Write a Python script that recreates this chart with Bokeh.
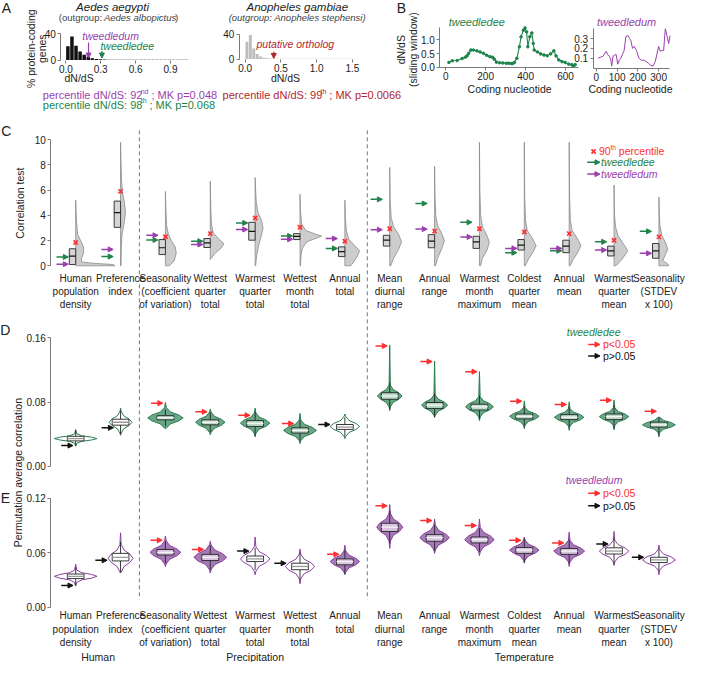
import numpy as np
from bokeh.plotting import figure
from bokeh.models import Range1d, LinearAxis, FixedTicker, Arrow, NormalHead, PrintfTickFormatter, Grid
from bokeh.core.properties import value
from bokeh.embed import file_html
from bokeh.resources import INLINE

# ======================= DATA =======================
# Panel A: dN/dS histograms (% of protein-coding genes per bin)
aedes_bin_width = 0.035
aedes_pct = [21, 36, 22, 13, 8, 5, 2.6, 1.5, 1.0, 0.7, 0.5, 0.4, 0.4, 0.3, 0.3,
             0.3, 0.3, 0.3, 0.3, 0.3, 0.3, 0.3, 0.3, 0.3, 0.3, 0.3, 0.3, 0.3, 0.3, 0.3]
anoph_bin_width = 0.048
anoph_pct = [28, 39, 17, 8, 4, 2, 1.2, 0.7, 0.5, 0.3, 0.3, 0.3, 0.3, 0.3, 0.3, 0.3,
             0.3, 0.3, 0.3, 0.3, 0.3, 0.3, 0.3, 0.3, 0.3, 0.3, 0.3, 0.3, 0.3, 0.3, 0.3, 0.3]
tweedledum_dnds = 0.195
tweedledee_dnds = 0.31
anoph_ortholog_dnds = 0.40

# Panel B: sliding-window dN/dS
tweedledee_nt = [16, 33, 57, 82, 98, 107, 115, 126, 139, 156, 172, 189, 205, 221, 234, 243, 254, 270,
                 286, 303, 315, 328, 335, 344, 356, 369, 377, 389, 397, 405, 411, 421, 431, 438, 443,
                 459, 475, 492, 508, 525, 541, 552, 566, 582, 598, 615, 631, 639, 648]
tweedledee_win = [0.18, 0.24, 0.25, 0.32, 0.37, 0.42, 0.51, 0.63, 0.63, 0.60, 0.56, 0.51, 0.44, 0.39,
                  0.37, 0.30, 0.19, 0.17, 0.16, 0.15, 0.15, 0.14, 0.14, 0.18, 0.33, 0.75, 1.11, 1.35,
                  1.43, 1.29, 0.75, 1.11, 1.25, 0.87, 0.63, 0.56, 0.49, 0.45, 0.42, 0.49, 0.60, 0.42,
                  0.27, 0.21, 0.18, 0.12, 0.10, 0.04, 0.10]
tweedledum_nt = [8, 20, 32, 47, 57, 63, 70, 74, 80, 88, 95, 103, 110, 118, 128, 134, 142, 153, 160,
                 166, 174, 182, 193, 205, 216, 228, 237, 250, 261, 273, 284, 300, 308, 316, 324, 332,
                 340, 348, 355]
tweedledum_win = [0.10, 0.11, 0.12, 0.17, 0.13, 0.12, 0.08, 0.02, 0.12, 0.13, 0.14, 0.04, 0.08, 0.10,
                  0.15, 0.18, 0.32, 0.33, 0.30, 0.28, 0.20, 0.22, 0.18, 0.10, 0.08, 0.08, 0.07, 0.05,
                  0.03, 0.02, 0.07, 0.22, 0.17, 0.18, 0.18, 0.40, 0.33, 0.25, 0.33]

# Categories (C, D, E)
cat_labels = ["Human\npopulation\ndensity", "Preference\nindex", "Seasonality\n(coefficient\nof variation)",
              "Wettest\nquarter\ntotal", "Warmest\nquarter\ntotal", "Wettest\nmonth\ntotal", "Annual\ntotal",
              "Mean\ndiurnal\nrange", "Annual\nrange", "Warmest\nmonth\nmaximum", "Coldest\nquarter\nmean",
              "Annual\nmean", "Warmest\nquarter\nmean", "Seasonality\n(STDEV\nx 100)"]
group_labels = ["Human", "Precipitation", "Temperature"]
group_first = [0, 2, 7]
group_last = [1, 6, 13]

# Panel C: correlation test null distributions (half violins: (value, half-width px) outline)
c_violin = [
    [(0, 40), (0.1, 38), (0.2, 18), (0.3, 6), (0.6, 6), (1.0, 8), (1.5, 8), (2.0, 5), (2.5, 2), (3.5, 0.8), (5.2, 0)],
    [(0, 0.5), (1.5, 0.8), (2.5, 1.5), (3.3, 3.5), (4.2, 5), (5.0, 4), (5.8, 2), (6.8, 1), (8.3, 0.4), (9.8, 0)],
    [(0, 4), (0.4, 9), (1.0, 11), (1.5, 10), (2.0, 6), (2.5, 3), (3.2, 1.2), (4.5, 0.5), (5.9, 0)],
    [(0.5, 0), (1.0, 5), (1.4, 11), (1.75, 14), (2.1, 9), (2.6, 3), (3.3, 1.2), (4.6, 0.5), (6.7, 0)],
    [(0, 0.5), (0.8, 1.5), (1.6, 3.5), (2.3, 6), (3.0, 8), (3.6, 6.5), (4.2, 3), (5.0, 1.2), (6.0, 0.5), (7.0, 0)],
    [(0, 0.5), (0.8, 1), (1.4, 2.5), (1.9, 7), (2.2, 17), (2.35, 22), (2.5, 16), (2.8, 6), (3.3, 1.8), (4.2, 0.6), (5.66, 0)],
    [(0, 6), (0.3, 9), (0.8, 13), (1.2, 15), (1.6, 10), (2.1, 4), (2.8, 1.5), (3.8, 0.5), (5.2, 0)],
    [(0, 1), (0.6, 4), (1.3, 9), (1.9, 12), (2.5, 9), (3.1, 4), (3.8, 1.5), (5.0, 0.5), (7.8, 0)],
    [(0, 1), (0.6, 3), (1.3, 7), (2.0, 10), (2.6, 7), (3.2, 3), (4.0, 1.2), (5.5, 0.4), (7.9, 0)],
    [(0, 1), (0.6, 3), (1.3, 8), (1.9, 10), (2.5, 7), (3.1, 3), (4.0, 1.2), (6.0, 0.4), (9.8, 0)],
    [(0, 1), (0.5, 4), (1.1, 9), (1.6, 12), (2.2, 8), (2.8, 3), (3.6, 1.2), (5.5, 0.4), (9.8, 0)],
    [(0, 1), (0.5, 4), (1.1, 9), (1.6, 12), (2.2, 8), (2.8, 3), (3.6, 1.2), (5.5, 0.4), (9.8, 0)],
    [(0, 2), (0.5, 8), (1.2, 14), (1.8, 9), (2.4, 4), (3.1, 1.5), (4.0, 0.5), (6.4, 0)],
    [(0, 10), (0.15, 9), (0.4, 4), (0.8, 6), (1.3, 9), (1.8, 7), (2.4, 3), (3.2, 1), (4.2, 0.4), (5.45, 0)],
]
c_q1 = [0.10, 3.05, 0.89, 1.45, 2.03, 2.08, 0.73, 1.56, 1.43, 1.38, 1.25, 1.04, 0.78, 0.60]
c_med = [0.76, 4.22, 1.43, 1.82, 2.73, 2.34, 1.12, 2.03, 1.95, 1.90, 1.64, 1.56, 1.19, 1.19]
c_q3 = [1.35, 5.13, 2.08, 2.16, 3.45, 2.55, 1.50, 2.42, 2.47, 2.34, 2.08, 2.03, 1.56, 1.77]
c_p90 = [1.85, 5.90, 2.30, 2.55, 3.79, 3.06, 1.95, 2.94, 2.75, 2.94, 2.68, 2.55, 2.03, 2.29]
c_tweedledee = [0.70, 0.73, 2.05, 1.95, 3.40, 2.36, 1.38, 5.27, 4.94, 3.45, 1.04, 1.19, 1.90, 2.73]
c_tweedledum = [0.13, 1.30, 2.42, 1.69, 2.88, 2.10, 2.16, 2.86, 2.91, 2.29, 1.38, 1.38, 1.25, 0.99]

# Panel D (tweedledee) permutation distributions: violin (bottom, mode, top, half-width px, bulge half-height)
d_violin = [(0.0253, 0.0347, 0.0457, 21.7, 0.0035), (0.0388, 0.0550, 0.0726, 11.7, 0.008),
            (0.0470, 0.0604, 0.0796, 18.0, 0.0075), (0.0396, 0.0550, 0.0714, 15.0, 0.0075),
            (0.0367, 0.0539, 0.0726, 15.0, 0.0075), (0.0286, 0.0449, 0.0661, 16.7, 0.0075),
            (0.0347, 0.0498, 0.0653, 15.0, 0.0075), (0.0694, 0.0877, 0.1510, 12.5, 0.008),
            (0.0612, 0.0763, 0.1310, 13.3, 0.0075), (0.0570, 0.0743, 0.1180, 14.2, 0.0075),
            (0.0470, 0.0624, 0.0816, 15.0, 0.0065), (0.0449, 0.0612, 0.0804, 15.0, 0.0065),
            (0.0457, 0.0620, 0.0828, 15.0, 0.0065), (0.0367, 0.0518, 0.0612, 16.7, 0.0055)]
d_q1 = [0.0318, 0.0514, 0.0580, 0.0518, 0.0498, 0.0416, 0.0461, 0.0836, 0.0722, 0.0702, 0.0592, 0.0583, 0.0583, 0.0490]
d_med = [0.0347, 0.0550, 0.0606, 0.0550, 0.0535, 0.0449, 0.0490, 0.0877, 0.0763, 0.0743, 0.0624, 0.0612, 0.0620, 0.0518]
d_q3 = [0.0375, 0.0588, 0.0632, 0.0580, 0.0571, 0.0481, 0.0522, 0.0918, 0.0796, 0.0775, 0.0653, 0.0645, 0.0653, 0.0551]
d_observed = [0.0260, 0.0481, 0.0788, 0.0681, 0.0637, 0.0534, 0.0522, 0.1500, 0.1306, 0.1180, 0.0812, 0.0771, 0.0824, 0.0686]
d_signif = [False, False, True, True, True, True, False, True, True, True, True, True, True, True]

# Panel E (tweedledum)
e_violin = [(0.0234, 0.0342, 0.0475, 21.7, 0.004), (0.0378, 0.0540, 0.0820, 12.7, 0.009),
            (0.0450, 0.0605, 0.0785, 15.7, 0.0075), (0.0378, 0.0551, 0.0727, 16.7, 0.008),
            (0.0360, 0.0533, 0.0774, 15.0, 0.008), (0.0259, 0.0450, 0.0641, 15.0, 0.008),
            (0.0360, 0.0504, 0.0684, 15.0, 0.007), (0.0648, 0.0882, 0.1130, 13.3, 0.009),
            (0.0594, 0.0767, 0.0972, 15.0, 0.008), (0.0569, 0.0745, 0.0972, 15.0, 0.008),
            (0.0486, 0.0630, 0.0774, 15.0, 0.0065), (0.0450, 0.0619, 0.0828, 15.7, 0.007),
            (0.0461, 0.0619, 0.0835, 15.0, 0.007), (0.0360, 0.0522, 0.0684, 16.7, 0.0065)]
e_q1 = [0.0317, 0.0511, 0.0576, 0.0515, 0.0504, 0.0414, 0.0468, 0.0835, 0.0727, 0.0709, 0.0594, 0.0583, 0.0587, 0.0493]
e_med = [0.0342, 0.0550, 0.0605, 0.0551, 0.0533, 0.0450, 0.0504, 0.0882, 0.0767, 0.0745, 0.0630, 0.0619, 0.0619, 0.0522]
e_q3 = [0.0367, 0.0594, 0.0637, 0.0583, 0.0565, 0.0486, 0.0533, 0.0925, 0.0800, 0.0774, 0.0659, 0.0648, 0.0655, 0.0551]
e_observed = [0.0241, 0.0518, 0.0738, 0.0637, 0.0619, 0.0486, 0.0583, 0.1116, 0.0954, 0.0900, 0.0738, 0.0709, 0.0698, 0.0551]
e_signif = [False, False, True, True, False, False, True, True, True, True, True, True, False, False]

# ======================= STYLE / LAYOUT =======================
FONT = "Liberation Sans"
GREEN = "#1e8449"
PURPLE = "#9b3fae"
RED = "#ff2e2e"
DARKRED = "#b3262c"
AXC = "#7a7a7a"
TXT = "#222222"
TICK = "10px"

W, H = 685, 662
FX0, FX1 = 2.0, 699.0   # reference-pixel span covered by the frame
FY0, FY1 = 3.0, 676.0
PXC = 45.65             # pixels per category step


def xrange_from(p0, v0, p1, v1):
    k = (v1 - v0) / (p1 - p0)
    return Range1d(start=v0 + (FX0 - p0) * k, end=v0 + (FX1 - p0) * k)


def yrange_from(p0, v0, p1, v1):
    k = (v1 - v0) / (p1 - p0)
    return Range1d(start=v0 + (FY1 - p0) * k, end=v0 + (FY0 - p0) * k)


p = figure(width=W, height=H, output_backend="svg", toolbar_location=None,
           x_range=Range1d(FX0, FX1), y_range=Range1d(FY1, FY0),
           x_axis_location=None, y_axis_location=None,
           min_border_left=0, min_border_right=0, min_border_top=0, min_border_bottom=0)
p.outline_line_color = None
p.background_fill_color = "white"
p.border_fill_color = "white"
for r in list(p.center):
    if isinstance(r, Grid):
        r.visible = False

p.extra_x_ranges = {
    "a1": xrange_from(68.5, 0.0, 175.0, 0.9),
    "a2": xrange_from(251.0, 0.0, 360.0, 1.5),
    "b1": xrange_from(455.0, 0.0, 577.0, 600.0),
    "b2": xrange_from(608.3, 0.0, 671.7, 300.0),
    "cat": xrange_from(78.5, 0.0, 78.5 + 13 * PXC, 13.0),
}
p.extra_y_ranges = {
    "a1": yrange_from(63.5, 0.0, 37.0, 40.0),
    "a2": yrange_from(62.5, 0.0, 37.5, 40.0),
    "b1": yrange_from(71.0, 0.0, 43.0, 1.0),
    "b2": yrange_from(71.7, 0.0, 41.7, 0.3),
    "c": yrange_from(272.7, 0.0, 144.5, 10.0),
    "d": yrange_from(476.7, 0.0, 346.0, 0.16),
    "e": yrange_from(620.0, 0.0, 509.0, 0.12),
}


def xval(name, px):
    r = p.extra_x_ranges[name]
    return r.start + (px - FX0) / (FX1 - FX0) * (r.end - r.start)


def add_axis(side, xr, yr, loc, ticks, bounds=None, fmt=None, line=True, size=TICK):
    ax = LinearAxis(x_range_name=xr, y_range_name=yr, fixed_location=loc,
                    ticker=FixedTicker(ticks=ticks))
    if bounds is not None:
        ax.bounds = bounds
    if fmt:
        ax.formatter = PrintfTickFormatter(format=fmt)
    ax.axis_line_color = AXC if line else None
    ax.major_tick_line_color = AXC
    ax.minor_tick_line_color = None
    ax.major_tick_in = 0
    ax.major_tick_out = 3
    ax.major_label_standoff = 2
    ax.major_label_text_font = FONT
    ax.major_label_text_font_size = size
    ax.major_label_text_color = TXT
    p.add_layout(ax, side)


def txt(x, y, s, size=9.5, color=TXT, style="normal", align="center", baseline="middle",
        angle=0.0, xr="default", yr="default"):
    xs = x if isinstance(x, list) else [x]
    ys = y if isinstance(y, list) else [y] * len(xs)
    ss = s if isinstance(s, list) else [s] * len(xs)
    p.text(x=xs, y=ys, text=ss, text_font=value(FONT), text_font_size=f"{size}px",
           text_color=color, text_font_style=style, text_align=align, text_baseline=baseline,
           angle=angle, text_line_height=1.2, x_range_name=xr, y_range_name=yr)


AW = {' ': 278, '%': 889, '(': 333, ')': 333, '-': 333, '.': 278, '/': 278, ':': 278, ';': 278,
      '<': 584, '=': 584, '>': 584, 'M': 833, 'K': 667, 'N': 722, 'S': 667, 'A': 667,
      'a': 556, 'b': 556, 'c': 500, 'd': 556, 'e': 556, 'f': 278, 'g': 556, 'h': 556, 'i': 222,
      'j': 222, 'k': 500, 'l': 222, 'm': 833, 'n': 556, 'o': 556, 'p': 556, 'q': 556, 'r': 333,
      's': 500, 't': 278, 'u': 556, 'v': 500, 'w': 722, 'x': 500, 'y': 500, 'z': 500}


def tw(s, size):
    return sum(AW.get(ch, 556) for ch in s) * size / 1000.0


def rich(x, y, pieces, color, size=11, style="normal"):
    cx = x
    for s, sup in pieces:
        sz = size * 0.64 if sup else size
        lead = len(s) - len(s.lstrip(" "))
        cx += tw(" " * lead, sz)
        body = s.strip(" ")
        txt(cx, y - (size * 0.36 if sup else 0), body, size=sz, color=color, align="left", style=style)
        cx += tw(body, sz)
        trail = len(s) - len(s.rstrip(" "))
        cx += tw(" " * trail, sz)


def arrow(x0, y0, x1, y1, color, xr="default", yr="default", size=5, lw=1.3):
    p.add_layout(Arrow(x_start=x0, y_start=y0, x_end=x1, y_end=y1, x_range_name=xr, y_range_name=yr,
                       line_color=color, line_width=lw,
                       end=NormalHead(size=size, fill_color=color, line_color=color, line_width=1)))


# ======================= PANEL A =======================
txt(8, 11, "A", size=14)
a1_x = [(k + 0.5) * aedes_bin_width for k in range(len(aedes_pct))]
p.vbar(x=a1_x, top=aedes_pct, bottom=0, width=aedes_bin_width * 0.86, fill_color="#111111",
       line_color=None, x_range_name="a1", y_range_name="a1")
add_axis("below", "a1", "a1", 0, [0, 0.3, 0.6, 0.9], fmt="%.1f", line=False)
add_axis("left", "a1", "a1", xval("a1", 63.5), [0, 40], bounds=(0, 40))
arrow(tweedledum_dnds, 27, tweedledum_dnds, 3.0, PURPLE, "a1", "a1", size=5, lw=1.2)
arrow(tweedledee_dnds, 14, tweedledee_dnds, 3.0, GREEN, "a1", "a1", size=5, lw=1.2)
txt(114, 39, "tweedledum", size=10.5, color=PURPLE, style="italic")
txt(131, 49, "tweedledee", size=10.5, color=GREEN, style="italic")
txt(116, 10, "Aedes aegypti", size=11.5, style="italic")
sub1 = [("(outgroup: ", "normal"), ("Aedes albopictus", "italic"), (")", "normal")]
sx = 122 - sum(tw(s, 9.5) for s, _ in sub1) / 2
for s, st in sub1:
    txt(sx, 20, s.strip(), size=9.5, color="#444444", style=st, align="left")
    sx += tw(s, 9.5)
txt(82, 82, "dN/dS", size=10.5)
txt(33, 52, "% protein-coding", size=10.5, angle=np.pi / 2)
txt(44, 52, "genes", size=10.5, angle=np.pi / 2)

a2_x = [(k + 0.5) * anoph_bin_width for k in range(len(anoph_pct))]
p.vbar(x=a2_x, top=anoph_pct, bottom=0, width=anoph_bin_width * 0.86, fill_color="#bdbdbd",
       line_color=None, x_range_name="a2", y_range_name="a2")
add_axis("below", "a2", "a2", 0, [0, 0.5, 1.0, 1.5], fmt="%.1f", line=False)
add_axis("left", "a2", "a2", xval("a2", 245), [0, 40], bounds=(0, 40))
arrow(anoph_ortholog_dnds, 12, anoph_ortholog_dnds, 1.0, DARKRED, "a2", "a2", size=5, lw=1.2)
txt(302, 47, "putative ortholog", size=10.5, color=DARKRED, style="italic")
txt(304, 10, "Anopheles gambiae", size=11.5, style="italic")
txt(304, 20, "(outgroup: Anopheles stephensi)", size=9.5, color="#444444", style="italic")
txt(292, 82, "dN/dS", size=10.5)

rich(45, 99, [("percentile dN/dS: 92", False), ("nd", True), (" ; MK p=0.048", False)], PURPLE)
rich(45, 109, [("percentile dN/dS: 98", False), ("th", True), (" ; MK p=0.068", False)], GREEN)
rich(228, 99, [("percentile dN/dS: 99", False), ("th", True), (" ; MK p=0.0066", False)], DARKRED)

# ======================= PANEL B =======================
txt(410, 11, "B", size=14)
txt(410, 53, "dN/dS", size=10.5, angle=np.pi / 2)
txt(422, 53, "(sliding window)", size=10.5, angle=np.pi / 2)
p.line(tweedledee_nt, tweedledee_win, line_color=GREEN, line_width=1.1, x_range_name="b1", y_range_name="b1")
p.scatter(tweedledee_nt, tweedledee_win, size=2.6, fill_color=GREEN, line_color=GREEN,
          x_range_name="b1", y_range_name="b1")
add_axis("below", "b1", "b1", 0, [0, 200, 400, 600], bounds=(xval("b1", 449), xval("b1", 590)))
add_axis("left", "b1", "b1", xval("b1", 449), [0, 0.5, 1.0], bounds=(0, 1.45), fmt="%.1f")
txt(458, 25, "tweedledee", size=11, color=GREEN, style="italic", align="left")
txt(520, 93, "Coding nucleotide", size=10.5)

p.line(tweedledum_nt, tweedledum_win, line_color=PURPLE, line_width=1.0, x_range_name="b2", y_range_name="b2")
add_axis("below", "b2", "b2", 0, [0, 100, 200, 300], bounds=(xval("b2", 605), xval("b2", 683)))
add_axis("left", "b2", "b2", xval("b2", 605), [0.1, 0.2, 0.3], bounds=(0, 0.4), fmt="%.1f")
txt(639, 25, "tweedledum", size=11, color=PURPLE, style="italic")
txt(643, 93, "Coding nucleotide", size=10.5)

# ======================= PANEL C =======================
txt(8, 136, "C", size=14)
txt(22, 209, "Correlation test", size=10.5, angle=np.pi / 2)
add_axis("left", "cat", "c", xval("cat", 53.3), [0, 2, 4, 6, 8, 10], bounds=(0, 10))
vxs, vys = [], []
for i, knots in enumerate(c_violin):
    vs = [k[0] for k in knots]
    ws = [k[1] / PXC for k in knots]
    vxs.append([i] + [i + w for w in ws] + [i])
    vys.append([vs[0]] + vs + [vs[-1]])
p.patches(vxs, vys, fill_color="#cdcdcd", line_color="#8a8a8a", line_width=0.8,
          x_range_name="cat", y_range_name="c")
idx = list(range(len(c_q1)))
bw = 6.5 / PXC
p.quad(left=[i - bw for i in idx], right=idx, bottom=c_q1, top=c_q3, fill_color="#d6d6d6",
       line_color="#3a3a3a", line_width=1, x_range_name="cat", y_range_name="c")
p.segment(x0=[i - bw for i in idx], x1=idx, y0=c_med, y1=c_med, line_color="#111111", line_width=1.2,
          x_range_name="cat", y_range_name="c")
p.scatter(idx, c_p90, marker="x", size=6, line_color=RED, line_width=1.6, x_range_name="cat", y_range_name="c")
for i in idx:
    tip = i - 7.5 / PXC
    arrow(tip - 12 / PXC, c_tweedledee[i], tip, c_tweedledee[i], GREEN, "cat", "c", size=5, lw=1.5)
    arrow(tip - 12 / PXC, c_tweedledum[i], tip, c_tweedledum[i], PURPLE, "cat", "c", size=5, lw=1.5)
txt(idx, 280, cat_labels, size=10, baseline="top", xr="cat")
# legend C
p.scatter([605.5], [156.5], marker="x", size=6, line_color=RED, line_width=1.6)
rich(611, 156.5, [("90", False), ("th", True), (" percentile", False)], RED, size=10.5)
arrow(599, 167.5, 612, 167.5, GREEN, size=5, lw=1.5)
txt(613, 167.5, "tweedledee", size=10.5, color=GREEN, style="italic", align="left")
arrow(599, 179.5, 612, 179.5, PURPLE, size=5, lw=1.5)
txt(613, 179.5, "tweedledum", size=10.5, color=PURPLE, style="italic", align="left")

# dashed separators spanning C-E
p.segment(x0=[1.42, 6.5], x1=[1.42, 6.5], y0=[135, 135], y1=[612, 612], line_color="#777777",
          line_width=1, line_dash="4 3", x_range_name="cat")


# ======================= PANELS D / E =======================
def spindle(vb, vm, vt, Wd, h):
    pts = [(vb, 0.0)]
    for f, k in [(-1.7, 0.05), (-1.0, 0.28), (-0.5, 0.75), (0.0, 1.0), (0.5, 0.75), (1.0, 0.28), (1.7, 0.05)]:
        v = vm + f * h
        if vb < v < vt:
            pts.append((v, k * Wd))
    pts.append((vt, 0.0))
    return pts


def violin_panel(yr, vparams, q1s, meds, q3s, obs, sig, fill, line, boxfill):
    fx, fy, ox, oy = [], [], [], []
    bx, bw2 = list(range(len(vparams))), 8.5 / PXC
    wlo, whi = [], []
    for i, (vb, vm, vt, Wd, h) in enumerate(vparams):
        pts = spindle(vb, vm, vt, Wd, h)
        vs = [a for a, _ in pts]
        ws = [b / PXC for _, b in pts]
        xs = [i + w for w in ws] + [i - w for w in ws[::-1]]
        ys = vs + vs[::-1]
        (fx if sig[i] else ox).append(xs)
        (fy if sig[i] else oy).append(ys)
        iqr = q3s[i] - q1s[i]
        wlo.append(max(vb, q1s[i] - 1.5 * iqr))
        whi.append(min(vt, q3s[i] + 1.5 * iqr))
        hw = float(np.interp(obs[i], vs, [b for _, b in pts]))
        tip = i - (hw + 2.5) / PXC
        arrow(tip - 12 / PXC, obs[i], tip, obs[i], RED if sig[i] else "#111111", "cat", yr, size=5, lw=1.5)
    p.patches(fx, fy, fill_color=fill, line_color=line, line_width=1, x_range_name="cat", y_range_name=yr)
    p.patches(ox, oy, fill_color="white", line_color=line, line_width=1, x_range_name="cat", y_range_name=yr)
    p.segment(x0=bx, x1=bx, y0=wlo, y1=whi, line_color="#222222", line_width=0.9,
              x_range_name="cat", y_range_name=yr)
    fills = [boxfill if s else "white" for s in sig]
    meds_c = ["#f4f4f4" if s else "#9a9a9a" for s in sig]
    p.quad(left=[i - bw2 for i in bx], right=[i + bw2 for i in bx], bottom=q1s, top=q3s,
           fill_color=fills, line_color="#222222", line_width=0.9, x_range_name="cat", y_range_name=yr)
    p.segment(x0=[i - bw2 for i in bx], x1=[i + bw2 for i in bx], y0=meds, y1=meds, line_color=meds_c,
              line_width=1.3, x_range_name="cat", y_range_name=yr)


txt(7, 338, "D", size=14)
add_axis("left", "cat", "d", xval("cat", 53.3), [0, 0.08, 0.16], bounds=(0, 0.16), fmt="%.2f")
violin_panel("d", d_violin, d_q1, d_med, d_q3, d_observed, d_signif, "#69a787", "#2b7d52", "#b9d9c6")
txt(605.5, 340, "tweedledee", size=10.5, color=GREEN, style="italic")
arrow(600, 352.7, 612, 352.7, RED, size=5, lw=1.5)
txt(615, 352.7, "p<0.05", size=10.5, color=RED, align="left")
arrow(600, 364.3, 612, 364.3, "#111111", size=5, lw=1.5)
txt(615, 364.3, "p>0.05", size=10.5, color="#111111", align="left")

txt(20, 483, "Permutation average correlation", size=10.5, angle=np.pi / 2)

txt(7, 509, "E", size=14)
add_axis("left", "cat", "e", xval("cat", 53.3), [0, 0.06, 0.12], bounds=(0, 0.12), fmt="%.2f")
violin_panel("e", e_violin, e_q1, e_med, e_q3, e_observed, e_signif, "#a67ab6", "#8a3f9f", "#d9c4e1")
txt(606, 490, "tweedledum", size=10.5, color=PURPLE, style="italic")
arrow(600, 504, 612, 504, RED, size=5, lw=1.5)
txt(615, 504, "p<0.05", size=10.5, color=RED, align="left")
arrow(600, 516.7, 612, 516.7, "#111111", size=5, lw=1.5)
txt(615, 516.7, "p>0.05", size=10.5, color="#111111", align="left")

txt(idx, 623, cat_labels, size=10, baseline="top", xr="cat")
gx = [(a + b) / 2 for a, b in zip(group_first, group_last)]
txt(gx, 670, group_labels, size=10.5, xr="cat")

open("out.html", "w").write(file_html(p, INLINE))
